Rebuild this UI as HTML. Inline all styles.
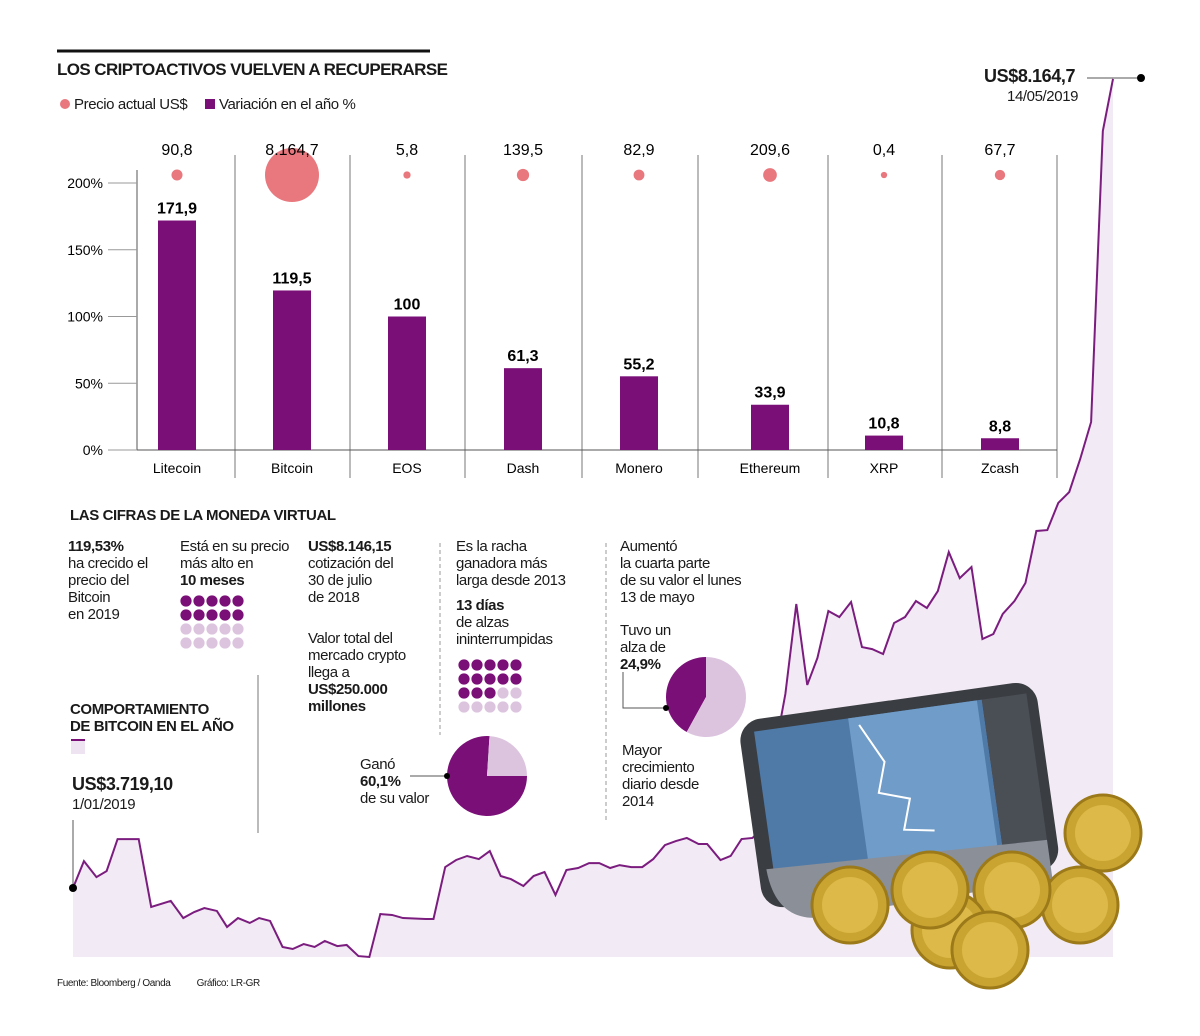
<!DOCTYPE html>
<html><head><meta charset="utf-8">
<style>
body{margin:0;background:#fff;}
#root{position:relative;width:1200px;height:1036px;overflow:hidden;font-family:"Liberation Sans",sans-serif;color:#1a1a1a;}
.t{position:absolute;font-size:15px;line-height:17px;letter-spacing:-0.4px;white-space:nowrap;}
.b{font-weight:bold;}
svg{position:absolute;left:0;top:0;}
</style></head>
<body>
<div id="root">
<svg id="chart" width="1200" height="1036"></svg>

<div class="t b" style="left:57px;top:61px;font-size:17px;letter-spacing:-0.6px">LOS CRIPTOACTIVOS VUELVEN A RECUPERARSE</div>
<div class="t" style="left:60px;top:96px;"><span style="display:inline-block;width:10px;height:10px;border-radius:50%;background:#e8787e;margin-right:4px"></span>Precio actual US$</div>
<div class="t" style="left:205px;top:96px;"><span style="display:inline-block;width:10px;height:10px;background:#7a0f78;margin-right:4px"></span>Variación en el año %</div>

<div class="t b" style="left:984px;top:68px;font-size:18px;">US$8.164,7</div>
<div class="t" style="left:1007px;top:88px;">14/05/2019</div>

<div class="t b" style="left:70px;top:507px;">LAS CIFRAS DE LA MONEDA VIRTUAL</div>
<div class="t" style="left:68px;top:538px;"><b>119,53%</b><br>ha crecido el<br>precio del<br>Bitcoin<br>en 2019</div>
<div class="t" style="left:180px;top:538px;">Está en su precio<br>más alto en<br><b>10 meses</b></div>
<div class="t" style="left:308px;top:538px;"><b>US$8.146,15</b><br>cotización del<br>30 de julio<br>de 2018</div>
<div class="t" style="left:308px;top:630px;">Valor total del<br>mercado crypto<br>llega a<br><b>US$250.000<br>millones</b></div>
<div class="t" style="left:456px;top:538px;">Es la racha<br>ganadora más<br>larga desde 2013</div>
<div class="t" style="left:456px;top:597px;"><b>13 días</b><br>de alzas<br>ininterrumpidas</div>
<div class="t" style="left:620px;top:538px;">Aumentó<br>la cuarta parte<br>de su valor el lunes<br>13 de mayo</div>
<div class="t" style="left:620px;top:622px;">Tuvo un<br>alza de<br><b>24,9%</b></div>
<div class="t" style="left:622px;top:742px;">Mayor<br>crecimiento<br>diario desde<br>2014</div>
<div class="t" style="left:360px;top:756px;">Ganó<br><b>60,1%</b><br>de su valor</div>
<div class="t b" style="left:70px;top:701px;">COMPORTAMIENTO<br>DE BITCOIN EN EL AÑO</div>
<div class="t b" style="left:72px;top:776px;font-size:18px;">US$3.719,10</div>
<div class="t" style="left:72px;top:796px;">1/01/2019</div>
<div class="t" style="left:57px;top:975px;font-size:10px;">Fuente: Bloomberg / Oanda&nbsp;&nbsp;&nbsp;&nbsp;&nbsp;&nbsp;&nbsp;&nbsp;&nbsp;&nbsp;&nbsp;Gráfico: LR-GR</div>
</div>
<script>
const coins=["Litecoin","Bitcoin","EOS","Dash","Monero","Ethereum","XRP","Zcash"];
const variation=[171.9,119.5,100,61.3,55.2,33.9,10.8,8.8];
const variationLabels=["171,9","119,5","100","61,3","55,2","33,9","10,8","8,8"];
const prices=[90.8,8164.7,5.8,139.5,82.9,209.6,0.4,67.7];
const priceLabels=["90,8","8.164,7","5,8","139,5","82,9","209,6","0,4","67,7"];
const yTicks=[0,50,100,150,200];
const btcDays=[0,1.4,3.0,4.3,5.7,8.4,10.0,12.5,14.1,15.5,16.8,18.4,19.7,21.1,22.6,23.8,25.2,26.8,28.1,29.5,30.9,32.2,33.8,35.0,36.5,37.9,39.3,40.8,42.2,45.1,46.1,47.6,49.0,50.4,51.9,53.3,54.7,56.0,57.6,58.9,60.3,61.7,63.1,64.6,66.0,67.3,68.7,69.9,71.4,72.8,74.2,75.7,77.1,78.5,80.0,81.1,82.8,84.1,85.5,86.9,87.9,91.1,92.5,93.9,95.2,96.6,98.0,99.5,100.9,102.2,103.6,105.0,106.4,107.8,109.2,110.6,112.0,113.4,114.9,116.3,117.7,118.9,120.4,121.8,123.2,124.6,126.0,127.4,128.8,130.2,131.7,133];
const btcPrice=[3719,3867,3779,3812,3988,3988,3615,3648,3554,3587,3609,3593,3505,3554,3527,3554,3538,3395,3384,3411,3395,3428,3400,3406,3345,3340,3576,3571,3554,3549,3549,3834,3873,3895,3878,3922,3785,3768,3730,3785,3807,3681,3818,3829,3856,3856,3829,3845,3834,3834,3878,3955,3977,3994,3961,3961,3873,3895,3988,3994,4038,4785,5280,4835,4983,5241,5208,5291,5043,5032,5005,5175,5208,5296,5258,5351,5565,5422,5483,5087,5115,5225,5296,5395,5681,5686,5835,5895,6076,6280,7879,8165];
const pie1=[76,24];
const pie2=[42,58];
const NS="http://www.w3.org/2000/svg";
const svg=document.getElementById('chart');
function mk(tag,attrs,parent){const e=document.createElementNS(NS,tag);for(const k in attrs)e.setAttribute(k,attrs[k]);(parent||svg).appendChild(e);return e;}
const y0=450,pxPerPct=133.5/100;
function yS(v){return y0-v*pxPerPct;}
const centers=[177,292,407,523,639,770,884,1000];
function xB(i){return centers[i];}
function priceX(d){return 73+d*(1040/133);}
function priceY(p){return 888-(p-3719.1)*(809/4445.6);}

let pts=btcDays.map((d,i)=>[priceX(d),priceY(btcPrice[i])]);
let area=mk('path',{d:'M'+pts[0][0]+',957 '+pts.map(p=>'L'+p[0]+','+p[1]).join(' ')+' L'+pts[pts.length-1][0]+',957Z',fill:'#f2eaf5'});


let ln=mk('polyline',{points:pts.map(p=>p.join(',')).join(' '),fill:'none',stroke:'#7b1c7f','stroke-width':2});



mk('line',{x1:57,y1:51,x2:430,y2:51,stroke:'#111','stroke-width':3});
[235,350,465,582,698,828,942,1057].forEach(x=>{const l=mk('line',{x1:x,y1:155,x2:x,y2:478,stroke:'#777','stroke-width':1});

});
mk('line',{x1:137,y1:450,x2:1057,y2:450,stroke:'#555','stroke-width':1});
mk('line',{x1:137,y1:170,x2:137,y2:450,stroke:'#555','stroke-width':1});
yTicks.forEach(v=>{
 const t=mk('text',{x:103,y:yS(v)+5,'text-anchor':'end','font-size':14,'font-family':'Liberation Sans'});t.textContent=v+'%';
 
 
 mk('line',{x1:108,y1:yS(v),x2:137,y2:yS(v),stroke:'#999','stroke-width':1});
});
coins.forEach((c,i)=>{
 const cx=xB(i);
 const r=mk('rect',{x:cx-19,y:yS(variation[i]),width:38,height:variation[i]*pxPerPct,fill:'#7a0f78'});
 
 
 const vl=mk('text',{x:cx,y:yS(variation[i])-7,'text-anchor':'middle','font-size':16,'font-weight':'bold','font-family':'Liberation Sans'});vl.textContent=variationLabels[i];
 
 
 const cl=mk('text',{x:cx,y:473,'text-anchor':'middle','font-size':14,'font-family':'Liberation Sans'});cl.textContent=c;
 
 
 const rad=3+24*Math.sqrt(prices[i]/8164.7);
 const d=mk('circle',{cx:cx,cy:175,r:rad,fill:'#e8787e'});
 
 
 const pl=mk('text',{x:cx,y:155,'text-anchor':'middle','font-size':16,'font-family':'Liberation Sans'});pl.textContent=priceLabels[i];
 
 
});
mk('line',{x1:258,y1:675,x2:258,y2:833,stroke:'#777'});
mk('line',{x1:440,y1:543,x2:440,y2:735,stroke:'#999','stroke-dasharray':'4,3'});
mk('line',{x1:606,y1:543,x2:606,y2:823,stroke:'#999','stroke-dasharray':'4,3'});
mk('line',{x1:73,y1:820,x2:73,y2:888,stroke:'#555'});
mk('line',{x1:1087,y1:78,x2:1141,y2:78,stroke:'#555'});
mk('circle',{cx:73,cy:888,r:4,fill:'#000'});
mk('circle',{cx:1141,cy:78,r:4,fill:'#000'});
mk('rect',{x:71,y:740,width:14,height:14,fill:'#eee4f1'});
mk('line',{x1:71,y1:740,x2:85,y2:740,stroke:'#7a0f78','stroke-width':2});
function grid(x,y,darkCount){for(let k=0;k<20;k++){const c=mk('circle',{cx:x+(k%5)*13,cy:y+Math.floor(k/5)*14,r:5.6,fill:k<darkCount?'#7a0f78':'#dcc4df'});

}}
grid(186,601,10);grid(464,665,13);
function pie(cx,cy,r,vals,start){let a=start;const tot=vals[0]+vals[1];const cols=['#7a0f78','#dcc4df'];
 vals.forEach((v,i)=>{const a2=a+v/tot*2*Math.PI;const large=(a2-a)>Math.PI?1:0;
 const p=mk('path',{d:`M${cx},${cy} L${cx+r*Math.sin(a)},${cy-r*Math.cos(a)} A${r},${r} 0 ${large} 1 ${cx+r*Math.sin(a2)},${cy-r*Math.cos(a2)}Z`,fill:cols[i]});
 
 
 a=a2;});}
pie(487,776,40,pie1,Math.PI/2);
pie(706,697,40,pie2,Math.PI*2*0.58);
mk('line',{x1:410,y1:776,x2:447,y2:776,stroke:'#555'});mk('circle',{cx:447,cy:776,r:3,fill:'#000'});
mk('polyline',{points:'623,672 623,708 666,708',fill:'none',stroke:'#555'});mk('circle',{cx:666,cy:708,r:3,fill:'#000'});
const g=mk('g',{transform:'rotate(-8 900 800)'});


mk('rect',{x:750,y:700,width:300,height:190,rx:22,fill:'#3a3d42'},g);
mk('rect',{x:765,y:712,width:230,height:150,fill:'#4f7aa8'},g);
mk('rect',{x:860,y:712,width:130,height:150,fill:'#6f9cc8'},g);
mk('rect',{x:995,y:712,width:45,height:165,fill:'#4a4e55'},g);
mk('path',{d:'M758,850 Q760,900 800,905 L1040,900 L1040,860 Z',fill:'#8a8f98'},g);
mk('polyline',{points:'870,720 890,760 880,790 910,800 900,830 930,835',fill:'none',stroke:'#fff','stroke-width':2},g);
[[1103,833],[1080,905],[1012,890],[950,930],[990,950],[850,905],[930,890]].forEach(c=>{
 mk('circle',{cx:c[0],cy:c[1],r:38,fill:'#c9a431',stroke:'#9c7a1a','stroke-width':3});
 mk('circle',{cx:c[0],cy:c[1],r:28,fill:'#dcb948'});
});
</script>
</body></html>
